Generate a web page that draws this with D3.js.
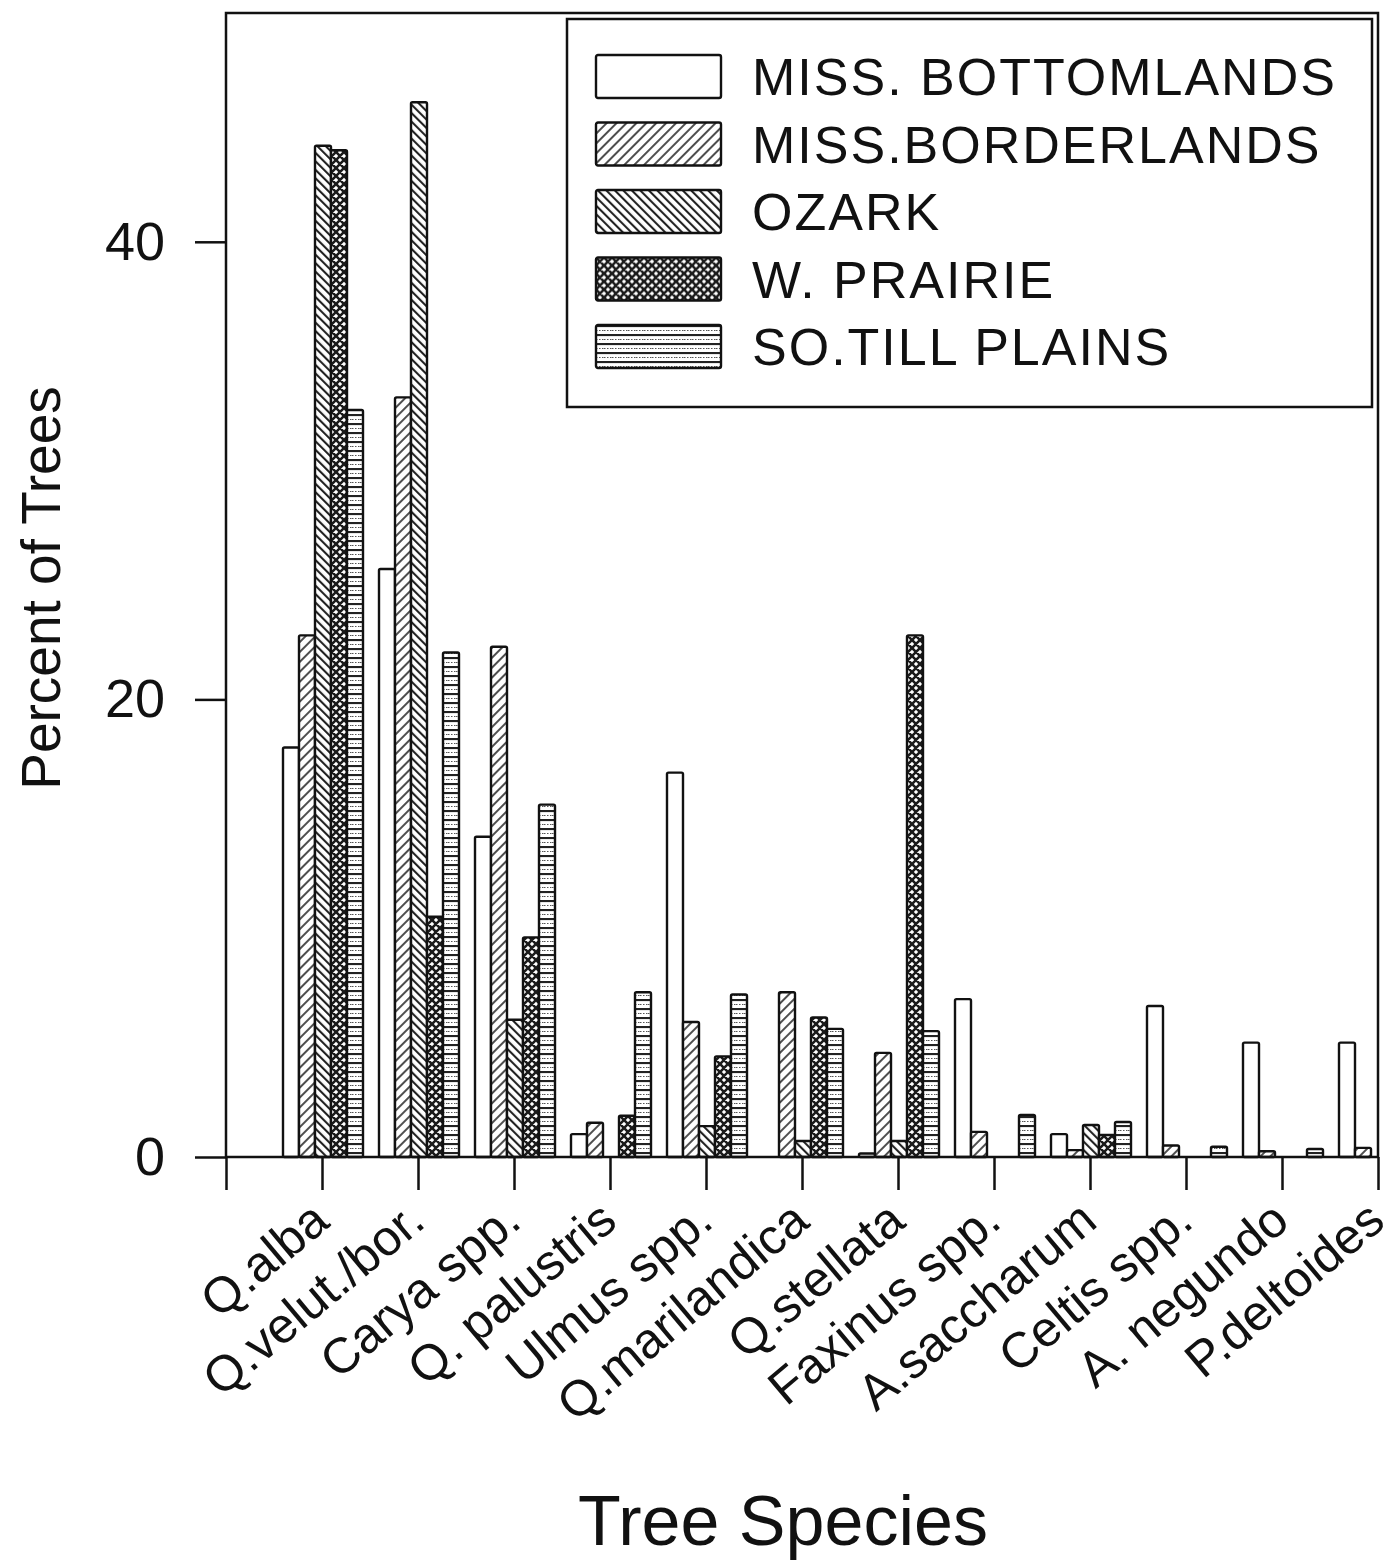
<!DOCTYPE html>
<html>
<head>
<meta charset="utf-8">
<script src="https://cdn.jsdelivr.net/npm/d3@7"></script>
<style>
  body { margin: 0; background: #fff; }
  text { font-family: "Liberation Sans", Arial, sans-serif; fill: #111; }
</style>
</head>
<body>
<div id="chart"></div>
<script>
// categories along the x axis
const species = ["Q.alba", "Q.velut./bor.", "Carya spp.", "Q. palustris", "Ulmus spp.",
  "Q.marilandica", "Q.stellata", "Faxinus spp.", "A.saccharum", "Celtis spp.",
  "A. negundo", "P.deltoides"];

const regions = ["MISS. BOTTOMLANDS", "MISS.BORDERLANDS", "OZARK", "W. PRAIRIE", "SO.TILL PLAINS"];

// percent of trees, one array per region
const bottomlands = [17.9, 25.7, 14.0, 1.0, 16.8, 0, 0.15, 6.9, 1.0, 6.6, 5.0, 5.0];
const borderlands = [22.8, 33.2, 22.3, 1.5, 5.9, 7.2, 4.55, 1.1, 0.3, 0.5, 0.25, 0.4];
const ozark       = [44.2, 46.1, 6.0, 0, 1.35, 0.7, 0.7, 0, 1.4, 0, 0, 0];
const prairie     = [44.0, 10.5, 9.6, 1.8, 4.4, 6.1, 22.8, 0, 0.96, 0, 0, 0];
const tillPlains  = [32.65, 22.05, 15.4, 7.2, 7.1, 5.6, 5.5, 1.84, 1.53, 0.45, 0.35, 0];

const yTicks = [0, 20, 40];

const series = [bottomlands, borderlands, ozark, prairie, tillPlains];
const fills = ["#fff", "url(#pBorder)", "url(#pOzark)", "url(#pPrairie)", "url(#pTill)"];

const width = 1396, height = 1567;
const plotL = 226, plotR = 1378, plotT = 13, plotB = 1157;

const svg = d3.select("#chart").append("svg")
  .attr("width", width)
  .attr("height", height);

// hatch patterns
const defs = svg.append("defs");

defs.append("pattern").attr("id", "pBorder")
  .attr("patternUnits", "userSpaceOnUse").attr("width", 7).attr("height", 7)
  .attr("patternTransform", "rotate(45)")
  .call(p => {
    p.append("rect").attr("width", 7).attr("height", 7).attr("fill", "#fff");
    p.append("line").attr("x1", 1).attr("y1", 0).attr("x2", 1).attr("y2", 7)
      .attr("stroke", "#222").attr("stroke-width", 1.6);
  });

defs.append("pattern").attr("id", "pOzark")
  .attr("patternUnits", "userSpaceOnUse").attr("width", 6).attr("height", 6)
  .attr("patternTransform", "rotate(-45)")
  .call(p => {
    p.append("rect").attr("width", 6).attr("height", 6).attr("fill", "#fff");
    p.append("line").attr("x1", 1).attr("y1", 0).attr("x2", 1).attr("y2", 6)
      .attr("stroke", "#222").attr("stroke-width", 2.2);
  });

defs.append("pattern").attr("id", "pPrairie")
  .attr("patternUnits", "userSpaceOnUse").attr("width", 8).attr("height", 8)
  .call(p => {
    p.append("rect").attr("width", 8).attr("height", 8).attr("fill", "#fff");
    p.append("path").attr("d", "M0,0L8,8M8,0L0,8M-4,4L4,-4M4,12L12,4")
      .attr("stroke", "#1a1a1a").attr("stroke-width", 2.6);
    p.append("circle").attr("cx", 4).attr("cy", 4).attr("r", 0.8).attr("fill", "#222");
  });

defs.append("pattern").attr("id", "pTill")
  .attr("patternUnits", "userSpaceOnUse").attr("width", 8).attr("height", 9)
  .call(p => {
    p.append("rect").attr("width", 8).attr("height", 9).attr("fill", "#fff");
    p.append("line").attr("x1", 0).attr("y1", 1).attr("x2", 8).attr("y2", 1)
      .attr("stroke", "#222").attr("stroke-width", 2.2);
    p.append("line").attr("x1", 0).attr("y1", 5.5).attr("x2", 8).attr("y2", 5.5)
      .attr("stroke", "#555").attr("stroke-width", 1.2).attr("stroke-dasharray", "1.5,1.5");
  });

// scales
const x = d3.scaleLinear().domain([0, species.length]).range([plotL, plotR]);
const y = d3.scaleLinear().domain([0, 50]).range([plotB, plotT]);
const barW = 16;

// bars
series.forEach((vals, j) => {
  svg.append("g")
    .selectAll("rect")
    .data(vals.map((v, i) => ({ v, i })).filter(d => d.v > 0))
    .join("rect")
    .attr("x", d => x(d.i + 1) + 1 + (j - 2.5) * barW)
    .attr("y", d => y(d.v))
    .attr("width", barW)
    .attr("height", d => y(0) - y(d.v))
    .attr("rx", 1.5)
    .attr("fill", fills[j])
    .attr("stroke", "#111")
    .attr("stroke-width", 2.4);
});

// frame
svg.append("rect")
  .attr("x", plotL).attr("y", plotT)
  .attr("width", plotR - plotL).attr("height", plotB - plotT)
  .attr("fill", "none").attr("stroke", "#111").attr("stroke-width", 2.5);

// y axis
const yAxis = svg.append("g")
  .attr("transform", `translate(${plotL},0)`)
  .call(d3.axisLeft(y).tickValues(yTicks).tickSize(31).tickPadding(30));
yAxis.select(".domain").remove();
yAxis.selectAll(".tick line").attr("stroke", "#111").attr("stroke-width", 2.5);
yAxis.selectAll(".tick text")
  .style("font-size", "54px").attr("fill", "#111");

// x axis
const xAxis = svg.append("g")
  .attr("transform", `translate(0,${plotB})`)
  .call(d3.axisBottom(x).tickValues(d3.range(species.length + 1)).tickSize(33)
    .tickFormat(d => d === 0 ? "" : species[d - 1]));
xAxis.select(".domain").remove();
xAxis.selectAll(".tick line").attr("stroke", "#111").attr("stroke-width", 2.5);
xAxis.selectAll(".tick text")
  .style("font-size", "50px")
  .attr("fill", "#111")
  .attr("text-anchor", "end")
  .attr("y", 0).attr("dy", 0)
  .attr("transform", "translate(9,68) rotate(-40)");

// axis titles
svg.append("text")
  .attr("transform", "translate(60,588) rotate(-90)")
  .attr("text-anchor", "middle")
  .style("font-size", "55px")
  .text("Percent of Trees");

svg.append("text")
  .attr("x", 783).attr("y", 1545)
  .attr("text-anchor", "middle")
  .style("font-size", "70px")
  .text("Tree Species");

// legend
const legend = svg.append("g");
legend.append("rect")
  .attr("x", 567).attr("y", 19).attr("width", 805).attr("height", 388)
  .attr("fill", "#fff").attr("stroke", "#111").attr("stroke-width", 2.5);

const rows = legend.selectAll("g.row")
  .data(regions)
  .join("g")
  .attr("class", "row")
  .attr("transform", (d, i) => `translate(596,${55 + i * 67.5})`);

rows.append("rect")
  .attr("width", 125).attr("height", 43).attr("rx", 2)
  .attr("fill", (d, i) => fills[i])
  .attr("stroke", "#111").attr("stroke-width", 2.4);

rows.append("text")
  .attr("x", 156).attr("y", 40)
  .style("font-size", "52px")
  .style("letter-spacing", "2px")
  .text(d => d);
</script>
</body>
</html>
